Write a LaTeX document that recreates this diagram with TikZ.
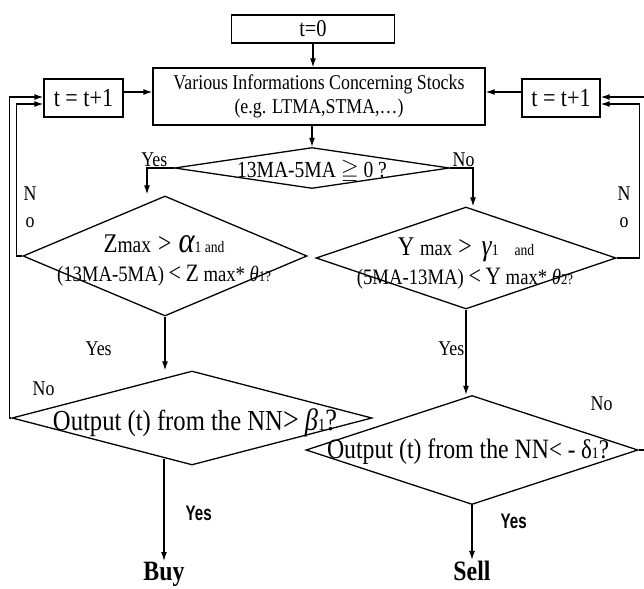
\documentclass[tikz,border=0pt]{standalone}
\usepackage{fontspec}
\usepackage{amssymb}
\usepackage{graphicx}
\setmainfont{Liberation Serif}[FakeStretch=0.85]
\newfontfamily\yesfont{Liberation Sans}
\usetikzlibrary{shapes.geometric,arrows.meta,calc}
\newcommand\fsz[1]{\fontsize{#1}{#1}\selectfont}
\begin{document}
\begin{tikzpicture}[x=1pt,y=-1pt,
  line width=1.3pt,
  box/.style={draw, rectangle, inner sep=0pt},
  dia/.style={draw, diamond, inner sep=0pt},
  arr/.style={-{Latex[length=9pt,width=6pt]}},
  txt/.style={inner sep=0pt, anchor=base},
  lab/.style={inner sep=0pt, anchor=base, font=\fsz{21}},
  byes/.style={inner sep=0pt, anchor=base west},
]
\useasboundingbox (0,0) rectangle (644,588);

% boxes
\node[box, minimum width=163pt, minimum height=28pt, font=\fsz{24}] (t0) at (313,29) {t=0};
\node[box, minimum width=332pt, minimum height=57pt, align=center, font=\fsz{21}] (V) at (319,96.5)
  {Various Informations Concerning Stocks\\[3pt](e.g. LTMA,STMA,\dots)};
\node[box, minimum width=79pt, minimum height=38pt, font=\fsz{26}] (Lbox) at (83.5,98) {t = t+1};
\node[box, minimum width=78pt, minimum height=38pt, font=\fsz{26}] (Rbox) at (561,98) {t = t+1};

% diamonds
\node[dia, minimum width=275pt, minimum height=41pt] (D) at (312,168) {};
\node[txt] at (312,177) {\fsz{23}13MA-5MA $\geqq$ 0 ?};

\node[dia, minimum width=284pt, minimum height=120pt] (Z) at (165,256) {};
\node[txt] at (164,252) {\fsz{27}Z{\fsz{23}max}\hspace{7pt}{\fsz{28}>}\hspace{7pt}{\fsz{36}\itshape α}{\fsz{16}1 and}};
\node[txt] at (164,281) {\fsz{22}(13MA-5MA) {\fsz{26}<} {\fsz{25}Z} max* {\itshape θ}{\fsz{15}1?}};

\node[dia, minimum width=300pt, minimum height=102pt] (Y) at (466,258) {};
\node[txt] at (466,255) {\fsz{27}Y {\fsz{22}max}\hspace{6pt}{\fsz{28}>}\hspace{10pt}{\fsz{30}\itshape γ}{\fsz{16}1\hspace{16pt}and}};
\node[txt] at (465,284) {\fsz{22}(5MA-13MA) {\fsz{26}<} {\fsz{25}Y} max* {\itshape θ}{\fsz{15}2?}};

\node[dia, minimum width=360pt, minimum height=94pt] (O1) at (192,418) {};
\node[txt] at (195,430) {\fsz{29}Output (t) from the NN{\fsz{33}>} {\fsz{31}\itshape β}{\fsz{17}1}{\fsz{31}?}};

\node[dia, minimum width=332pt, minimum height=109pt] (S) at (472,450) {};
\node[txt] at (468,458) {\fsz{28}Output (t) from the NN{\fsz{27}< - δ}{\fsz{16}1}{\fsz{27}?}};

% results
\node[txt, font=\fsz{28}\bfseries] (buy) at (164,580) {Buy};
\node[txt, font=\fsz{28}\bfseries] (sell) at (472,580) {Sell};

% connectors
\draw[arr] (t0.south) -- (t0.south |- V.north);
\draw[arr] (V.south -| D.north) -- (D.north);
\draw[arr] ([yshift=6pt]Lbox.east) -- ([yshift=6pt]Lbox.east -| V.west);
\draw[arr] ([yshift=6pt]Rbox.west) -- ([yshift=6pt]Rbox.west -| V.east);
\draw[arr] (D.west) -| ($(Z.north)+(-18,-1)$);
\draw[arr] (D.east) -| ($(Y.north)+(7,0)$);
\draw[arr] (Z.south) -- (Z.south |- O1.north);
\draw[arr] (Y.south) -- (Y.south |- S.north);
\draw[arr] ($(O1.south)+(-28,-7)$) -- (buy.north);
\draw[arr] (S.south) -- (sell.north);

% loops
\draw[arr] (O1.west) -- ++(-2,0) |- ([yshift=1pt]Lbox.west);
\draw[arr] (Z.west) -- ++(-6,0) |- ([yshift=-6pt]Lbox.west);
\draw[arr] (Y.east) -- ++(23,0) |- ([yshift=-6pt]Rbox.east);
\coordinate (redge) at (644,97);
\draw[arr] (redge) -- (redge -| Rbox.east);
\coordinate (redge2) at (644,450);
\draw (S.east) -- (redge2);

% labels
\node[lab, anchor=base east] at (168,166) {Yes};
\node[lab, anchor=base west] at (452,167) {No};
\node[lab] at (30,200) {N};
\node[lab] at (30,227) {o};
\node[lab] at (624,200) {N};
\node[lab] at (624,227) {o};
\node[lab, anchor=base west] at (32,395) {No};
\node[lab, anchor=base west] at (590,410) {No};
\node[lab, anchor=base west] at (85,355) {Yes};
\node[lab, anchor=base east] at (465,355) {Yes};
\node[byes] at (185,520) {\scalebox{0.72}[1]{\yesfont\bfseries\fsz{21}Yes}};
\node[byes] at (500,528) {\scalebox{0.72}[1]{\yesfont\bfseries\fsz{21}Yes}};
\end{tikzpicture}
\end{document}
